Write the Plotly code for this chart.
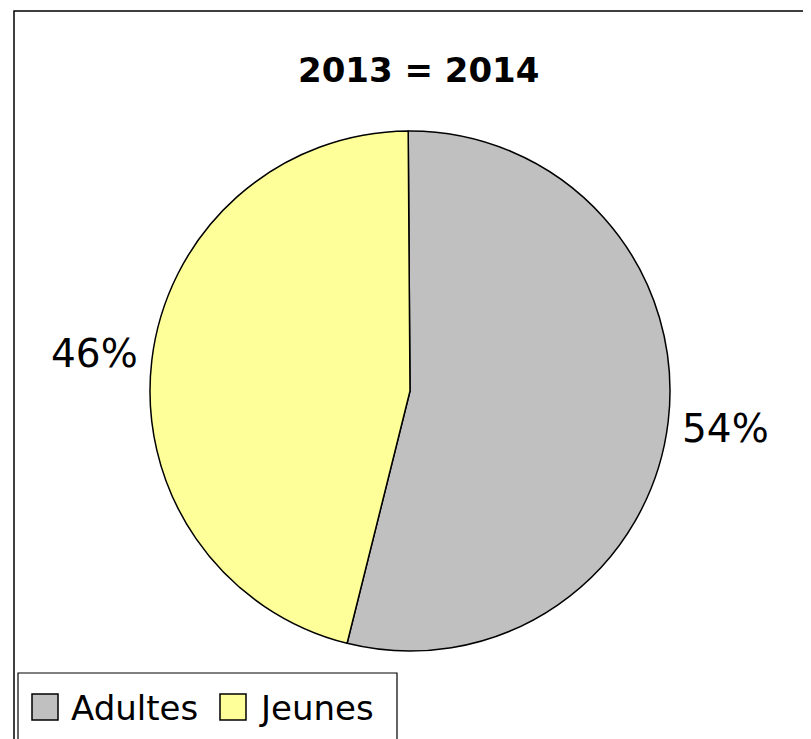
import math
import plotly.graph_objects as go

categories = ["Adultes", "Jeunes"]
values = [54, 46]
colors = ["#C0C0C0", "#FFFF99"]
title_text = "2013 = 2014"

W, H = 811, 739
FONT = "DejaVu Sans"
OFF = 8  # page body margin

# pie geometry (pixels in window)
cx, cy, r = 410, 391, 260

def px(x):
    return (x - OFF) / W

def py(y):
    return 1 - (y - OFF) / H

fig = go.Figure(go.Pie(
    labels=categories,
    values=values,
    marker=dict(colors=colors, line=dict(color="black", width=1.5)),
    sort=False,
    direction="clockwise",
    rotation=-0.4,
    textinfo="none",
    hoverinfo="label+percent",
    showlegend=False,
    domain=dict(x=[px(cx - r), px(cx + r)], y=[py(cy + r), py(cy - r)]),
))

annotations = []
total = sum(values)
cum = 0
label_r = r + 58
for cat, v in zip(categories, values):
    mid = (cum + v / 2) / total * 360 - 0.4
    cum += v
    a = math.radians(mid)
    lx = cx + label_r * math.sin(a)
    ly = cy - label_r * math.cos(a)
    annotations.append(dict(
        x=px(lx), y=py(ly), xref="paper", yref="paper",
        text=f"{round(v / total * 100)}%", showarrow=False,
        font=dict(family=FONT, size=39, color="black"),
        xanchor="center", yanchor="middle",
    ))

shapes = [
    dict(type="rect", xref="paper", yref="paper",
         x0=px(14), y0=py(11), x1=px(W + 30), y1=py(H + 30),
         line=dict(color="black", width=1.5), fillcolor="rgba(0,0,0,0)", layer="below"),
    dict(type="rect", xref="paper", yref="paper",
         x0=px(18), y0=py(673), x1=px(397), y1=py(H + 30),
         line=dict(color="black", width=1.2), fillcolor="white"),
]

# custom legend
leg_items = [(32, 69), (220, 257)]
for (sx, tx), cat, col in zip(leg_items, categories, colors):
    shapes.append(dict(type="rect", xref="paper", yref="paper",
                       x0=px(sx), y0=py(720), x1=px(sx + 26), y1=py(694),
                       line=dict(color="black", width=1.5), fillcolor=col))
    annotations.append(dict(
        x=px(tx), y=py(708), xref="paper", yref="paper", text=cat,
        showarrow=False, xanchor="left", yanchor="middle",
        font=dict(family=FONT, size=34, color="black"),
    ))

annotations.append(dict(
    x=px(418), y=py(70), xref="paper", yref="paper", text=f"<b>{title_text}</b>",
    showarrow=False, xanchor="center", yanchor="middle",
    font=dict(family=FONT, size=34, color="black"),
))

fig.update_layout(
    width=W, height=H,
    margin=dict(l=0, r=0, t=0, b=0),
    paper_bgcolor="white", plot_bgcolor="white",
    shapes=shapes, annotations=annotations,
)

fig.write_html("out.html")
